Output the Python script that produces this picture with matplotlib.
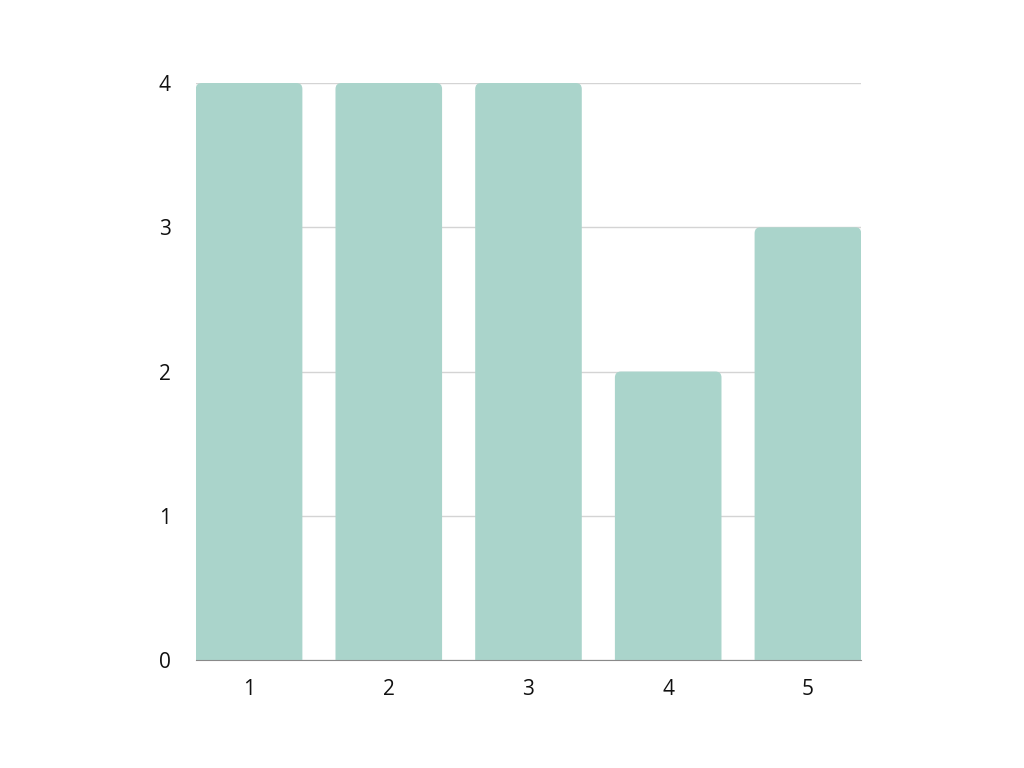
import matplotlib
matplotlib.use("Agg")
import matplotlib.pyplot as plt
from matplotlib.path import Path
from matplotlib.patches import PathPatch

categories = ["1", "2", "3", "4", "5"]
values = [4, 4, 4, 2, 3]
y_ticks = [0, 1, 2, 3, 4]

plt.rcParams['font.family'] = ['Open Sans', 'DejaVu Sans']

fig = plt.figure(figsize=(10.24, 7.68), dpi=100)
ax = fig.add_axes([0.1914, 0.1406, 0.6494, 0.7513])

x = list(range(1, len(categories) + 1))
bars = ax.bar(x, values, width=0.763, color='#aad4cb', zorder=2)

ax.set_xlim(0.62, 5.38)
ax.set_ylim(0, 4)
ax.set_xticks(x)
ax.set_xticklabels(categories)
ax.set_yticks(y_ticks)
ax.tick_params(axis='both', length=0, labelsize=15, colors='#111111')
ax.tick_params(axis='y', pad=18)
ax.tick_params(axis='x', pad=14)

ax.grid(axis='y', color='#d4d4d4', linewidth=1, zorder=0)
for s in ['left', 'right', 'top']:
    ax.spines[s].set_visible(False)
ax.spines['bottom'].set_color('#8a8a8a')
ax.spines['bottom'].set_zorder(3)

# round the top corners of each bar (radius ~6 px)
px_x = 0.6494 * 1024 / (5.38 - 0.62)
px_y = 0.7513 * 768 / 4
rx, ry = 6 / px_x, 6 / px_y
for b in bars:
    x0, y0 = b.get_x(), b.get_y()
    w, h = b.get_width(), b.get_height()
    x1, y1 = x0 + w, y0 + h
    verts = [(x0, y0), (x0, y1 - ry), (x0, y1), (x0 + rx, y1),
             (x1 - rx, y1), (x1, y1), (x1, y1 - ry), (x1, y0), (x0, y0)]
    codes = [Path.MOVETO, Path.LINETO, Path.CURVE3, Path.CURVE3,
             Path.LINETO, Path.CURVE3, Path.CURVE3, Path.LINETO, Path.CLOSEPOLY]
    ax.add_patch(PathPatch(Path(verts, codes), facecolor='#aad4cb',
                           edgecolor='none', zorder=2))
    b.set_visible(False)

fig.savefig("out.png", dpi=100)
